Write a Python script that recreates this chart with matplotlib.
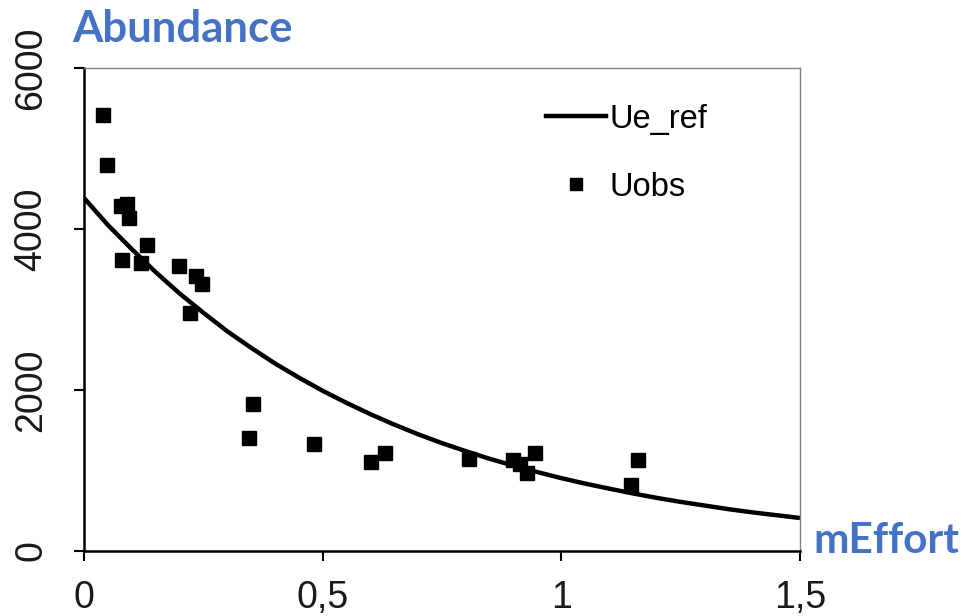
import matplotlib
matplotlib.use("Agg")
import matplotlib.pyplot as plt
from matplotlib.lines import Line2D

# observed abundance (Uobs) vs effort
effort_obs = [0.040, 0.048, 0.078, 0.090, 0.094, 0.132, 0.080, 0.119,
              0.199, 0.235, 0.247, 0.222, 0.354, 0.346, 0.482, 0.601,
              0.631, 0.807, 0.899, 0.913, 0.928, 0.945, 1.146, 1.161]
abund_obs = [5410, 4790, 4280, 4315, 4140, 3805, 3620, 3580,
             3545, 3420, 3320, 2960, 1830, 1405, 1330, 1105,
             1220, 1145, 1130, 1080, 970, 1220, 820, 1130]

# reference curve (Ue_ref)
effort_ref = [0.0, 0.05, 0.1, 0.15, 0.2, 0.25, 0.3, 0.35, 0.4, 0.45,
              0.5, 0.55, 0.6, 0.65, 0.7, 0.75, 0.8, 0.85, 0.9, 0.95,
              1.0, 1.05, 1.1, 1.15, 1.2, 1.25, 1.3, 1.35, 1.4, 1.45, 1.5]
abund_ref = [4385, 4050, 3750, 3465, 3200, 2960, 2730, 2525, 2330, 2155,
             1990, 1840, 1700, 1570, 1450, 1340, 1240, 1145, 1060, 980,
             905, 837, 775, 715, 660, 610, 565, 520, 480, 445, 410]

xticks = [0, 0.5, 1, 1.5]
xtick_labels = ["0", "0,5", "1", "1,5"]
yticks = [0, 2000, 4000, 6000]

plt.rcParams['font.family'] = ['Liberation Sans', 'DejaVu Sans']

fig = plt.figure(figsize=(9.66, 6.16), dpi=100)
ax = fig.add_axes([84/966, 1-551/616, 716/966, 483/616])

ax.plot(effort_ref, abund_ref, color='black', lw=3.2, solid_capstyle='butt',
        solid_joinstyle='round')
ax.plot(effort_obs, abund_obs, ls='none', marker='s', ms=9.5,
        color='black', mec='black')

ax.set_xlim(0, 1.5)
ax.set_ylim(0, 6000)
ax.set_xticks(xticks)
ax.set_xticklabels(xtick_labels)
ax.set_yticks(yticks)
ax.set_yticklabels([str(v) for v in yticks], rotation=90, va='center')

for s in ['left', 'bottom']:
    ax.spines[s].set_linewidth(1.8)
    ax.spines[s].set_color('black')
for s in ['top', 'right']:
    ax.spines[s].set_linewidth(1.0)
    ax.spines[s].set_color('#808080')

ax.tick_params(direction='out', length=7, width=1.5, labelsize=27,
               colors='black', labelcolor='#1a1a1a')
ax.tick_params(axis='x', pad=14)
ax.tick_params(axis='y', pad=18)

handles = [Line2D([], [], color='black', lw=3.2),
           Line2D([], [], ls='none', marker='s', ms=8, color='black')]
ax.legend(handles, ['Ue_ref', 'Uobs'], loc='upper left',
          bbox_to_anchor=(0.645, 0.926), frameon=False, fontsize=23.5,
          handlelength=1.85, handletextpad=0.1, labelspacing=1.13,
          borderpad=0, borderaxespad=0)

fig.text(72/966, 1-42/616, 'Abundance', color='#4472C4', fontsize=31.5,
         fontweight='bold', family='Lato', va='baseline', ha='left')
fig.text(813/966, 1-553/616, 'mEffort', color='#4472C4', fontsize=30.5,
         fontweight='bold', family='Lato', va='baseline', ha='left')

fig.savefig('out.png', dpi=100)
